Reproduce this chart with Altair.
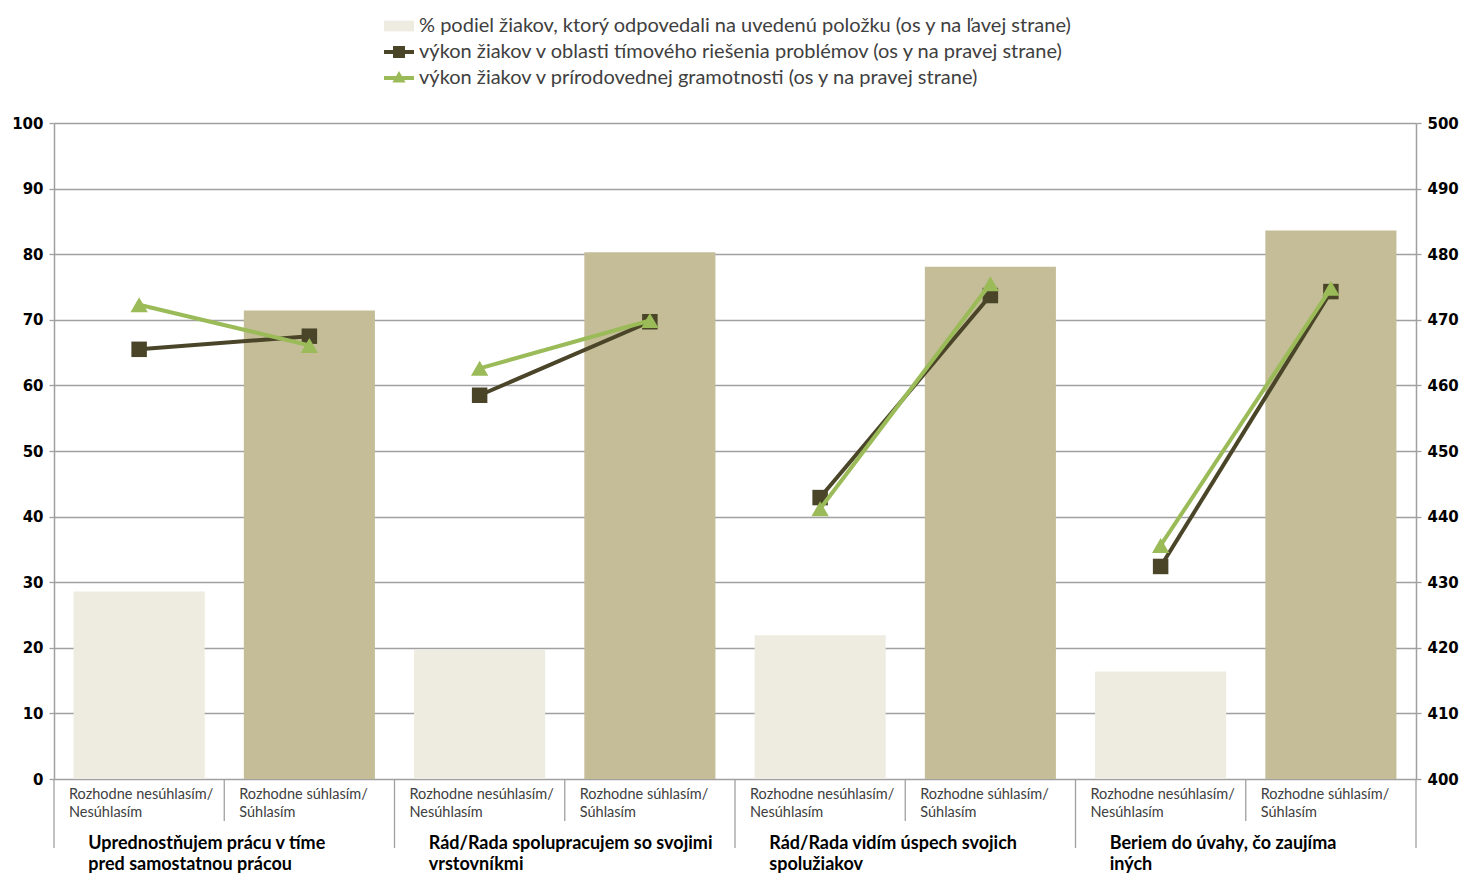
import altair as alt
import pandas as pd

# ---------------- data ----------------
cats = ["c1", "c2", "c3", "c4", "c5", "c6", "c7", "c8"]
answers = [
    "Rozhodne nesúhlasím/\nNesúhlasím", "Rozhodne súhlasím/\nSúhlasím",
    "Rozhodne nesúhlasím/\nNesúhlasím", "Rozhodne súhlasím/\nSúhlasím",
    "Rozhodne nesúhlasím/\nNesúhlasím", "Rozhodne súhlasím/\nSúhlasím",
    "Rozhodne nesúhlasím/\nNesúhlasím", "Rozhodne súhlasím/\nSúhlasím",
]
agree = [0, 1, 0, 1, 0, 1, 0, 1]
group_of_cat = [1, 1, 2, 2, 3, 3, 4, 4]
groups = [
    "Uprednostňujem prácu v tíme\npred samostatnou prácou",
    "Rád/Rada spolupracujem so svojimi\nvrstovníkmi",
    "Rád/Rada vidím úspech svojich\nspolužiakov",
    "Beriem do úvahy, čo zaujíma\niných",
]
group_anchor_cat = ["c2", "c4", "c6", "c8"]

pct = [28.6, 71.4, 19.7, 80.3, 21.9, 78.1, 16.4, 83.6]
cps = [465.5, 467.5, 458.5, 469.7, 442.9, 473.7, 432.4, 474.3]
sci = [472.3, 466.1, 462.6, 469.9, 441.2, 475.5, 435.6, 474.8]

series = [
    "% podiel žiakov, ktorý odpovedali na uvedenú položku (os y na ľavej strane)",
    "výkon žiakov v oblasti tímového riešenia problémov (os y na pravej strane)",
    "výkon žiakov v prírodovednej gramotnosti (os y na pravej strane)",
]

# ---------------- styles ----------------
LIGHT = "#EEEBE0"
TAN = "#C4BD97"
DARK = "#4A4529"
GREEN = "#9BBB59"
GRID = "#A0A0A0"
W, H = 1362, 656

df = pd.DataFrame({
    "cat": cats, "answer": answers, "agree": agree, "grp": group_of_cat,
    "pct": pct, "cps": cps, "sci": sci,
})
gdf = pd.DataFrame({"cat": group_anchor_cat, "title": groups})
legend_df = pd.DataFrame({"series": series})

xscale = alt.Scale(domain=cats, paddingInner=0, paddingOuter=0)


def xenc(**kw):
    return alt.X("cat:N", sort=cats, scale=xscale, axis=None, **kw)


left_axis = alt.Axis(
    orient="left", values=list(range(0, 101, 10)), grid=True, gridColor=GRID,
    gridWidth=1.3, domainColor=GRID, domainWidth=1.5, tickColor=GRID, tickSize=5,
    tickWidth=1.3, labelFont="DejaVu Sans", labelFontWeight="bold", labelFontSize=15,
    labelColor="#000000", labelPadding=6, title=None,
)
right_axis = alt.Axis(
    orient="right", values=list(range(400, 501, 10)), grid=False,
    domainColor=GRID, domainWidth=1.5, tickColor=GRID, tickSize=5, tickWidth=1.3,
    labelFont="DejaVu Sans", labelFontWeight="bold", labelFontSize=15,
    labelColor="#000000", labelPadding=6, title=None,
)
rscale = alt.Scale(domain=[400, 500], nice=False, zero=False)

bars = alt.Chart(df).mark_bar(width=alt.RelativeBandSize(0.77)).encode(
    x=xenc(),
    y=alt.Y("pct:Q", scale=alt.Scale(domain=[0, 100], nice=False), axis=left_axis),
    color=alt.condition("datum.agree == 1", alt.value(TAN), alt.value(LIGHT)),
)

sep_long = alt.Chart(df[df["agree"] == 0]).mark_rule(color=GRID, strokeWidth=1.3).encode(
    x=xenc(bandPosition=0), y=alt.value(H), y2=alt.value(H + 69)
)
sep_short = alt.Chart(df[df["agree"] == 1]).mark_rule(color=GRID, strokeWidth=1.3).encode(
    x=xenc(bandPosition=0), y=alt.value(H), y2=alt.value(H + 42)
)
sep_end = alt.Chart(df.tail(1)).mark_rule(color=GRID, strokeWidth=1.3).encode(
    x=xenc(bandPosition=1), y=alt.value(H), y2=alt.value(H + 69)
)

cat_text = alt.Chart(df).mark_text(
    align="left", baseline="top", dx=15, font="Lato", fontSize=14.5,
    color="#404040", lineBreak="\n", lineHeight=18,
).encode(x=xenc(bandPosition=0), y=alt.value(H + 9), text="answer:N")

grp_text = alt.Chart(gdf).mark_text(
    align="left", baseline="top", dx=-136, font="Lato", fontSize=18,
    fontWeight="bold", color="#000000", lineBreak="\n", lineHeight=21,
).encode(x=xenc(bandPosition=0), y=alt.value(H + 56), text="title:N")

P_BAR = "M-1,-0.36H1V0.36H-1Z"
P_SQ = "M-1,-0.14H1V0.14H-1Z M-0.4,-0.4H0.4V0.4H-0.4Z"
P_TRI = "M-1,-0.14H1V0.14H-1Z M0,-0.46L0.44,0.3H-0.44Z"

leg = alt.Legend(
    title=None, orient="none", legendX=330, legendY=-112, direction="vertical",
    labelFont="Lato", labelFontSize=20, labelColor="#404040", symbolSize=900,
    symbolStrokeWidth=0, labelOffset=5, rowPadding=1, labelLimit=1200, padding=0,
)
legend_layer = alt.Chart(legend_df).mark_point(filled=True, opacity=1).encode(
    color=alt.Color("series:N", scale=alt.Scale(domain=series, range=[LIGHT, DARK, GREEN]), legend=leg),
    shape=alt.Shape("series:N", scale=alt.Scale(domain=series, range=[P_BAR, P_SQ, P_TRI]), legend=leg),
).transform_filter("false")

dark_line = alt.Chart(df).mark_line(color=DARK, strokeWidth=4).encode(
    x=xenc(), y=alt.Y("cps:Q", scale=rscale, axis=right_axis), detail="grp:N"
)
dark_pts = alt.Chart(df).mark_square(color=DARK, size=240, opacity=1).encode(
    x=xenc(), y=alt.Y("cps:Q", scale=rscale, axis=right_axis)
)
green_line = alt.Chart(df).mark_line(color=GREEN, strokeWidth=4).encode(
    x=xenc(), y=alt.Y("sci:Q", scale=rscale, axis=right_axis), detail="grp:N"
)
green_pts = alt.Chart(df).mark_point(shape="triangle-up", filled=True, color=GREEN, size=300, opacity=1).encode(
    x=xenc(), y=alt.Y("sci:Q", scale=rscale, axis=right_axis)
)
lines = alt.layer(dark_line, dark_pts, green_line, green_pts)

chart = alt.layer(
    bars, sep_long, sep_short, sep_end, cat_text, grp_text, legend_layer, lines
).resolve_scale(y="independent").properties(
    width=W, height=H,
    padding={"left": 54, "top": 123, "right": 48, "bottom": 100},
    autosize=alt.AutoSizeParams(type="none"),
    background="white",
).configure_view(stroke=None)

chart.save("out.html", embed_options={"renderer": "svg", "actions": False})
